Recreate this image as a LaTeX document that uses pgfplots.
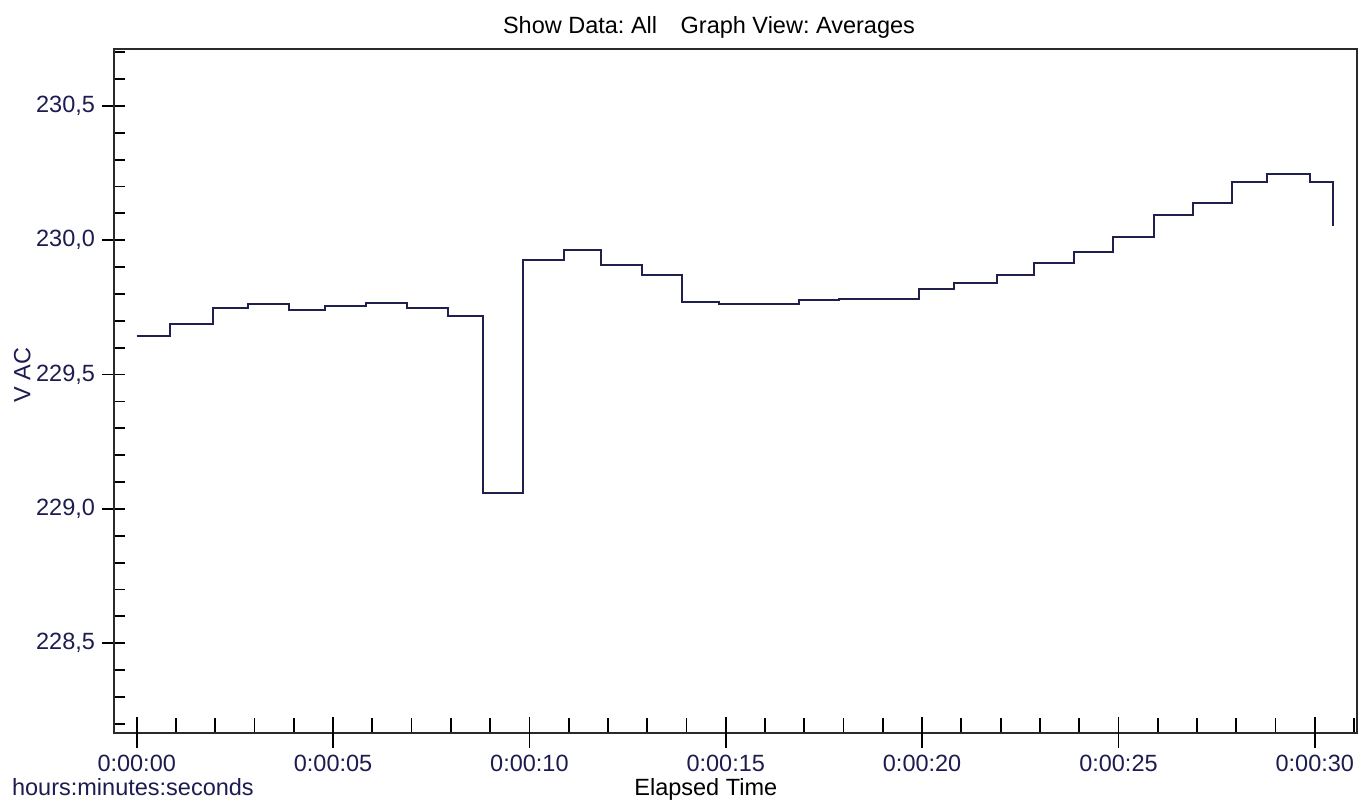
\documentclass[border=0pt]{standalone}
\usepackage{fontspec}
\setmainfont{Liberation Sans}
\usepackage{pgfplots}
\pgfplotsset{compat=1.18}

\definecolor{trace}{HTML}{20204E}
\definecolor{labelblue}{HTML}{1C1C50}
\definecolor{framegray}{HTML}{2A2A2A}

\begin{document}
\frenchspacing
\begin{tikzpicture}[font=\fontsize{11.75pt}{14pt}\selectfont]
\pgfplotsset{
  frameaxis/.style={
    scale only axis, width=621.75pt, height=341.6pt,
    xmin=-0.591, xmax=31.075, ymin=228.167, ymax=230.710,
    axis line style={framegray, line width=1pt},
    tick style={black, line width=0.9pt},
    tick align=inside,
    xtick pos=bottom, ytick pos=left,
  }
}
% voltage scale: 0.1 V minor ticks inside, 0.5 V major ticks across the frame
\begin{axis}[frameaxis, name=ax,
  xtick=\empty,
  ytick={228.2,228.3,228.4,228.5,228.6,228.7,228.8,228.9,229.0,229.1,229.2,229.3,229.4,229.5,229.6,229.7,229.8,229.9,230.0,230.1,230.2,230.3,230.4,230.5,230.6,230.7},
  yticklabels={},
  major tick length=5.5pt,
  extra y ticks={228.5,229,229.5,230,230.5},
  extra y tick labels={{228,5},{229,0},{229,5},{230,0},{230,5}},
  extra y tick style={tick align=center, major tick length=11.5pt, ytick pos=left},
  yticklabel style={text=labelblue},
]
\end{axis}
% time scale and the averaged voltage trace
\begin{axis}[frameaxis,
  ytick=\empty,
  xtick={0,...,31},
  xticklabels={},
  major tick length=7.5pt,
  extra x ticks={0,5,10,15,20,25,30},
  extra x tick labels={0:00:00,0:00:05,0:00:10,0:00:15,0:00:20,0:00:25,0:00:30},
  extra x tick style={tick align=center, major tick length=15.5pt, xtick pos=bottom},
  xticklabel style={text=labelblue},
]
\addplot[trace, line width=1pt, mark=none, const plot mark left] coordinates {
  (0.000, 229.645)
  (0.848, 229.688)
  (1.935, 229.747)
  (2.827, 229.762)
  (3.871, 229.741)
  (4.803, 229.755)
  (5.839, 229.768)
  (6.883, 229.747)
  (7.920, 229.718)
  (8.811, 229.061)
  (9.845, 229.927)
  (10.889, 229.964)
  (11.831, 229.908)
  (12.867, 229.871)
  (13.894, 229.770)
  (14.836, 229.762)
  (16.865, 229.777)
  (17.876, 229.783)
  (19.921, 229.819)
  (20.820, 229.840)
  (21.915, 229.871)
  (22.850, 229.914)
  (23.876, 229.956)
  (24.869, 230.013)
  (25.913, 230.093)
  (26.906, 230.140)
  (27.891, 230.217)
  (28.790, 230.247)
  (29.878, 230.217)
  (30.471, 230.054)
};
\end{axis}
\node[anchor=base] at ([xshift=297.75pt, yshift=8.2pt]ax.north west) {Show Data: All\hspace{1em}Graph View: Averages};
\node[anchor=base, rotate=90, text=labelblue] at ([xshift=-41.5pt, yshift=178.8pt]ax.south west) {V AC};
\node[anchor=base] at ([xshift=296.15pt, yshift=-31.5pt]ax.south west) {Elapsed Time};
\node[anchor=base west, inner sep=0pt, text=labelblue] at ([xshift=-50.9pt, yshift=-31.2pt]ax.south west) {hours:minutes:seconds};
\pgfresetboundingbox
\path ([shift={(-56.75pt,-33.65pt)}]ax.south west) rectangle ([shift={(1pt,24.75pt)}]ax.north east);
\end{tikzpicture}
\end{document}
